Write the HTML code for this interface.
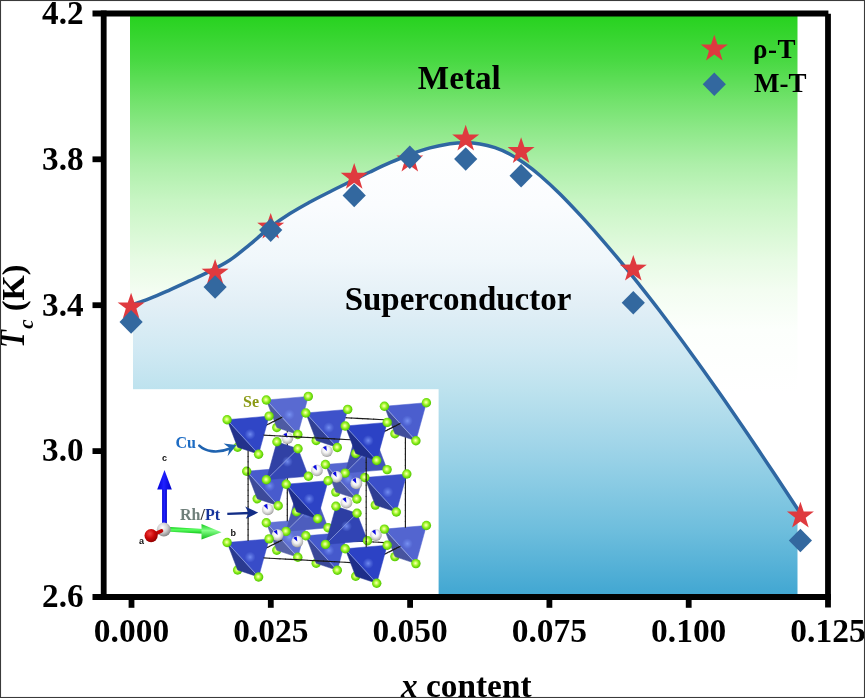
<!DOCTYPE html>
<html lang="en">
<head>
<meta charset="utf-8">
<title>Tc versus x content phase diagram</title>
<style>
html,body{margin:0;padding:0;background:#fff;}
body{width:865px;height:698px;overflow:hidden;font-family:"Liberation Serif",serif;}
svg{display:block;}
</style>
</head>
<body>
<svg width="865" height="698" viewBox="0 0 865 698">
<defs>
<linearGradient id="gG" x1="0" y1="16" x2="0" y2="392" gradientUnits="userSpaceOnUse">
<stop offset="0.000" stop-color="#27d21f"/><stop offset="0.120" stop-color="#49d943"/><stop offset="0.223" stop-color="#71e26b"/><stop offset="0.301" stop-color="#8de888"/><stop offset="0.394" stop-color="#adefa9"/><stop offset="0.489" stop-color="#c7f5c3"/><stop offset="0.566" stop-color="#d7f8d3"/><stop offset="0.649" stop-color="#e7fbe4"/><stop offset="0.729" stop-color="#f3fdf1"/><stop offset="0.835" stop-color="#fcfffc"/><stop offset="1.000" stop-color="#ffffff"/></linearGradient>
<linearGradient id="gB" x1="0" y1="140" x2="0" y2="594" gradientUnits="userSpaceOnUse">
<stop offset="0.000" stop-color="#ffffff"/><stop offset="0.143" stop-color="#fafcfe"/><stop offset="0.264" stop-color="#f0f7fb"/><stop offset="0.363" stop-color="#e2eff6"/><stop offset="0.463" stop-color="#d0e9f3"/><stop offset="0.551" stop-color="#bde2ee"/><stop offset="0.661" stop-color="#a3d6e9"/><stop offset="0.749" stop-color="#8ccce4"/><stop offset="0.859" stop-color="#6ebedd"/><stop offset="1.000" stop-color="#42a7d2"/></linearGradient>
<radialGradient id="se" cx="0.46" cy="0.46" r="0.58"><stop offset="0" stop-color="#fbffc4"/><stop offset="0.25" stop-color="#d0ff66"/><stop offset="0.55" stop-color="#8cec1e"/><stop offset="0.85" stop-color="#5cd004"/><stop offset="1" stop-color="#47ae03"/></radialGradient>
<radialGradient id="rh" cx="0.45" cy="0.4" r="0.65"><stop offset="0" stop-color="#ffffff"/><stop offset="0.4" stop-color="#f4f4f4"/><stop offset="0.75" stop-color="#c2c2c2"/><stop offset="1" stop-color="#858585"/></radialGradient>
<radialGradient id="cu" cx="0.5" cy="0.5" r="0.5"><stop offset="0" stop-color="#86a2ff" stop-opacity="0.75"/><stop offset="1" stop-color="#6f8cf0" stop-opacity="0"/></radialGradient>
<linearGradient id="gbl" x1="0" y1="0" x2="1" y2="0"><stop offset="0" stop-color="#0000d2"/><stop offset="0.45" stop-color="#2424ff"/><stop offset="1" stop-color="#0000c4"/></linearGradient>
<linearGradient id="gbl2" x1="0" y1="0" x2="1" y2="0"><stop offset="0" stop-color="#0000d8"/><stop offset="0.45" stop-color="#2020ff"/><stop offset="1" stop-color="#0000c8"/></linearGradient>
<linearGradient id="ggr" x1="0" y1="0" x2="0" y2="1"><stop offset="0" stop-color="#14d01c"/><stop offset="0.4" stop-color="#5cff62"/><stop offset="1" stop-color="#12c41a"/></linearGradient>
<linearGradient id="ggr2" x1="0" y1="0" x2="0" y2="1"><stop offset="0" stop-color="#12cc1a"/><stop offset="0.42" stop-color="#86ff8a"/><stop offset="1" stop-color="#10be18"/></linearGradient>
<radialGradient id="gsph" cx="0.4" cy="0.35" r="0.7"><stop offset="0" stop-color="#ffffff"/><stop offset="0.5" stop-color="#d0d0d0"/><stop offset="1" stop-color="#7a7a7a"/></radialGradient>
<radialGradient id="rsph" cx="0.4" cy="0.35" r="0.7"><stop offset="0" stop-color="#f04040"/><stop offset="0.5" stop-color="#cc0808"/><stop offset="1" stop-color="#8a0000"/></radialGradient>
</defs>
<rect x="0" y="0" width="865" height="698" fill="#fff"/>
<rect x="130" y="16" width="667.5" height="376" fill="url(#gG)"/>
<path d="M131 305.2C134.2 304.1 143.5 300.9 150 298.3C156.5 295.7 163.3 292.7 170 289.8C176.7 286.9 183.3 283.8 190 280.7C196.7 277.6 203.3 274.6 210 271.1C216.7 267.7 223.3 264.4 230 260C236.7 255.6 243.3 249.8 250 244.4C256.7 239 263.3 232.6 270 227.5C276.7 222.4 283.3 217.8 290 213.6C296.7 209.3 303.3 205.7 310 202C316.7 198.3 323.3 195.1 330 191.7C336.7 188.3 343.3 185.1 350 181.8C356.7 178.5 363.3 175.2 370 172C376.7 168.8 383.3 165.6 390 162.7C396.7 159.8 403.3 157 410 154.5C416.7 152 423.3 149.7 430 147.9C436.7 146.1 444.2 144.7 450 143.8C455.8 143 460 142.8 465 142.8C470 142.8 475 143.1 480 143.9C485 144.7 490 146 495 147.7C500 149.4 505 151.6 510 154.3C515 157 520 160.3 525 163.8C530 167.3 534.2 170.5 540 175.5C545.8 180.5 553.3 187.4 560 194C566.7 200.6 573.3 207.7 580 214.9C586.7 222.1 593.3 229.6 600 237.3C606.7 245 613.3 252.8 620 260.9C626.7 268.9 633.3 277.2 640 285.6C646.7 294 651.7 300.3 660 311.3C668.3 322.3 680 337.9 690 351.7C700 365.4 710 379.5 720 393.8C730 408.1 740.8 424 750 437.5C759.2 451 766.7 462.3 775 474.8C783.3 487.3 795.8 506.4 800 512.7L797.5 512.7L797.5 594L133 594L133 305.2Z" fill="url(#gB)"/>
<rect x="129" y="389.2" width="309.6" height="206" fill="#fff"/>
<g id="crystal">
<circle cx="276.8" cy="550.3" r="4.7" fill="url(#se)"/>
<circle cx="276.8" cy="427.5" r="4.7" fill="url(#se)"/>
<polygon points="276.8,550.3 266.3,522.8 297.8,557.3" fill="#5662a7" stroke="#5662a7" stroke-width="0.5"/><polygon points="308.3,519.2 266.3,522.8 297.8,557.3" fill="#6071d3" stroke="#6071d3" stroke-width="0.5"/><line x1="266.3" y1="522.8" x2="297.8" y2="557.3" stroke="#b2bfea" stroke-width="0.7"/><circle cx="289.3" cy="537.4" r="5.5" fill="url(#cu)"/>
<circle cx="308.3" cy="519.2" r="4.7" fill="url(#se)"/>
<line x1="287.30" y1="521.36" x2="287.30" y2="515.03" stroke="#1a1a1a" stroke-width="1.15"/>
<line x1="287.30" y1="515.73" x2="287.30" y2="509.40" stroke="#1a1a1a" stroke-width="1.15"/>
<line x1="287.30" y1="510.10" x2="287.30" y2="503.78" stroke="#1a1a1a" stroke-width="1.15"/>
<line x1="287.30" y1="504.48" x2="287.30" y2="498.15" stroke="#1a1a1a" stroke-width="1.15"/>
<line x1="302.72" y1="538.22" x2="308.83" y2="538.55" stroke="#1a1a1a" stroke-width="1.15"/>
<circle cx="335.8" cy="492.1" r="4.7" fill="url(#se)"/>
<line x1="287.30" y1="498.85" x2="287.30" y2="492.53" stroke="#1a1a1a" stroke-width="1.15"/>
<line x1="308.13" y1="538.51" x2="314.24" y2="538.84" stroke="#1a1a1a" stroke-width="1.15"/>
<line x1="287.30" y1="493.23" x2="287.30" y2="486.90" stroke="#1a1a1a" stroke-width="1.15"/>
<line x1="287.30" y1="487.60" x2="287.30" y2="481.28" stroke="#1a1a1a" stroke-width="1.15"/>
<line x1="313.54" y1="538.80" x2="319.65" y2="539.13" stroke="#1a1a1a" stroke-width="1.15"/>
<line x1="287.30" y1="481.98" x2="287.30" y2="475.65" stroke="#1a1a1a" stroke-width="1.15"/>
<line x1="287.30" y1="476.35" x2="287.30" y2="470.02" stroke="#1a1a1a" stroke-width="1.15"/>
<line x1="318.95" y1="539.09" x2="325.06" y2="539.41" stroke="#1a1a1a" stroke-width="1.15"/>
<line x1="287.30" y1="470.72" x2="287.30" y2="464.40" stroke="#1a1a1a" stroke-width="1.15"/>
<line x1="287.30" y1="465.10" x2="287.30" y2="458.77" stroke="#1a1a1a" stroke-width="1.15"/>
<circle cx="266.3" cy="522.8" r="4.7" fill="url(#se)"/>
<line x1="324.36" y1="539.38" x2="330.47" y2="539.70" stroke="#1a1a1a" stroke-width="1.15"/>
<line x1="287.30" y1="459.47" x2="287.30" y2="453.15" stroke="#1a1a1a" stroke-width="1.15"/>
<line x1="287.30" y1="453.85" x2="287.30" y2="447.52" stroke="#1a1a1a" stroke-width="1.15"/>
<line x1="329.77" y1="539.67" x2="335.88" y2="539.99" stroke="#1a1a1a" stroke-width="1.15"/>
<circle cx="394.9" cy="556.6" r="4.7" fill="url(#se)"/>
<line x1="287.30" y1="448.22" x2="287.30" y2="441.90" stroke="#1a1a1a" stroke-width="1.15"/>
<line x1="287.30" y1="442.60" x2="287.30" y2="436.27" stroke="#1a1a1a" stroke-width="1.15"/>
<line x1="335.18" y1="539.95" x2="341.29" y2="540.28" stroke="#1a1a1a" stroke-width="1.15"/>
<line x1="287.30" y1="436.97" x2="287.30" y2="430.64" stroke="#1a1a1a" stroke-width="1.15"/>
<circle cx="297.8" cy="557.3" r="4.7" fill="url(#se)"/>
<line x1="282.38" y1="539.87" x2="279.96" y2="541.09" stroke="#1a1a1a" stroke-width="1.15"/>
<line x1="340.59" y1="540.24" x2="346.70" y2="540.57" stroke="#1a1a1a" stroke-width="1.15"/>
<line x1="346.00" y1="540.53" x2="352.11" y2="540.86" stroke="#1a1a1a" stroke-width="1.15"/>
<polygon points="276.8,427.5 266.3,400 297.8,434.5" fill="#4e5ba3" stroke="#4e5ba3" stroke-width="0.5"/><polygon points="308.3,396.4 266.3,400 297.8,434.5" fill="#596ad1" stroke="#596ad1" stroke-width="0.5"/><line x1="266.3" y1="400" x2="297.8" y2="434.5" stroke="#aebce9" stroke-width="0.7"/><circle cx="289.3" cy="414.6" r="5.5" fill="url(#cu)"/>
<circle cx="308.3" cy="396.4" r="4.7" fill="url(#se)"/>
<line x1="351.41" y1="540.82" x2="357.52" y2="541.15" stroke="#1a1a1a" stroke-width="1.15"/>
<line x1="280.58" y1="540.78" x2="278.16" y2="541.99" stroke="#1a1a1a" stroke-width="1.15"/>
<line x1="356.82" y1="541.11" x2="362.93" y2="541.43" stroke="#1a1a1a" stroke-width="1.15"/>
<line x1="362.23" y1="541.40" x2="368.34" y2="541.72" stroke="#1a1a1a" stroke-width="1.15"/>
<line x1="302.72" y1="415.42" x2="308.83" y2="415.75" stroke="#1a1a1a" stroke-width="1.15"/>
<line x1="367.64" y1="541.69" x2="373.75" y2="542.01" stroke="#1a1a1a" stroke-width="1.15"/>
<line x1="308.13" y1="415.71" x2="314.24" y2="416.04" stroke="#1a1a1a" stroke-width="1.15"/>
<line x1="278.79" y1="541.68" x2="276.37" y2="542.89" stroke="#1a1a1a" stroke-width="1.15"/>
<line x1="373.05" y1="541.97" x2="379.16" y2="542.30" stroke="#1a1a1a" stroke-width="1.15"/>
<polygon points="335.8,492.1 325.4,464.5 356.9,499" fill="#4b57a1" stroke="#4b57a1" stroke-width="0.5"/><polygon points="367.3,461 325.4,464.5 356.9,499" fill="#5667d0" stroke="#5667d0" stroke-width="0.5"/><line x1="325.4" y1="464.5" x2="356.9" y2="499" stroke="#acbae8" stroke-width="0.7"/><circle cx="348.4" cy="479.1" r="5.5" fill="url(#cu)"/>
<circle cx="367.3" cy="461" r="4.7" fill="url(#se)"/>
<line x1="313.54" y1="416.00" x2="319.65" y2="416.33" stroke="#1a1a1a" stroke-width="1.15"/>
<line x1="378.46" y1="542.26" x2="384.57" y2="542.59" stroke="#1a1a1a" stroke-width="1.15"/>
<line x1="318.95" y1="416.29" x2="325.06" y2="416.61" stroke="#1a1a1a" stroke-width="1.15"/>
<circle cx="297.2" cy="463.9" r="5.9" fill="url(#rh)"/><path d="M297.2 463.9L296.6 458.6A5.3 5.3 0 0 0 293.2 460.4Z" fill="#0a0ae0"/>
<line x1="383.87" y1="542.55" x2="389.98" y2="542.88" stroke="#1a1a1a" stroke-width="1.15"/>
<circle cx="266.3" cy="400" r="4.7" fill="url(#se)"/>
<line x1="324.36" y1="416.58" x2="330.47" y2="416.90" stroke="#1a1a1a" stroke-width="1.15"/>
<line x1="276.99" y1="542.58" x2="274.57" y2="543.80" stroke="#1a1a1a" stroke-width="1.15"/>
<line x1="329.77" y1="416.87" x2="335.88" y2="417.19" stroke="#1a1a1a" stroke-width="1.15"/>
<circle cx="394.9" cy="433.8" r="4.7" fill="url(#se)"/>
<line x1="335.18" y1="417.15" x2="341.29" y2="417.48" stroke="#1a1a1a" stroke-width="1.15"/>
<circle cx="297.8" cy="434.5" r="4.7" fill="url(#se)"/>
<polygon points="394.9,556.6 384.4,529.1 415.9,563.6" fill="#47549f" stroke="#47549f" stroke-width="0.5"/><polygon points="426.4,525.5 384.4,529.1 415.9,563.6" fill="#5365d0" stroke="#5365d0" stroke-width="0.5"/><line x1="384.4" y1="529.1" x2="415.9" y2="563.6" stroke="#abb9e8" stroke-width="0.7"/><circle cx="407.4" cy="543.7" r="5.5" fill="url(#cu)"/>
<line x1="282.38" y1="417.07" x2="279.96" y2="418.29" stroke="#1a1a1a" stroke-width="1.15"/>
<line x1="340.59" y1="417.44" x2="346.70" y2="417.77" stroke="#1a1a1a" stroke-width="1.15"/>
<circle cx="426.4" cy="525.5" r="4.7" fill="url(#se)"/>
<line x1="275.20" y1="543.48" x2="272.77" y2="544.70" stroke="#1a1a1a" stroke-width="1.15"/>
<line x1="346.00" y1="417.73" x2="352.11" y2="418.06" stroke="#1a1a1a" stroke-width="1.15"/>
<circle cx="356.2" cy="528.4" r="5.9" fill="url(#rh)"/><path d="M356.2 528.4L355.7 523.2A5.3 5.3 0 0 0 352.3 524.9Z" fill="#0a0ae0"/>
<line x1="405.40" y1="527.66" x2="405.40" y2="521.33" stroke="#1a1a1a" stroke-width="1.15"/>
<line x1="351.41" y1="418.02" x2="357.52" y2="418.35" stroke="#1a1a1a" stroke-width="1.15"/>
<circle cx="325.4" cy="464.5" r="4.7" fill="url(#se)"/>
<line x1="405.40" y1="522.03" x2="405.40" y2="515.70" stroke="#1a1a1a" stroke-width="1.15"/>
<line x1="405.40" y1="516.40" x2="405.40" y2="510.08" stroke="#1a1a1a" stroke-width="1.15"/>
<polygon points="317.6,500.3 286,531.4 296.5,493.3" fill="#4958af" stroke="#4958af" stroke-width="0.5"/><polygon points="317.6,500.3 286,531.4 328,527.8" fill="#4d5dbe" stroke="#4d5dbe" stroke-width="0.5"/><line x1="317.6" y1="500.3" x2="286" y2="531.4" stroke="#aab8e7" stroke-width="0.7"/><circle cx="307" cy="513.2" r="5.5" fill="url(#cu)"/>
<line x1="280.58" y1="417.98" x2="278.16" y2="419.19" stroke="#1a1a1a" stroke-width="1.15"/>
<line x1="356.82" y1="418.31" x2="362.93" y2="418.63" stroke="#1a1a1a" stroke-width="1.15"/>
<circle cx="328" cy="527.8" r="4.7" fill="url(#se)"/>
<circle cx="296.5" cy="493.3" r="4.7" fill="url(#se)"/>
<line x1="405.40" y1="510.78" x2="405.40" y2="504.45" stroke="#1a1a1a" stroke-width="1.15"/>
<line x1="273.40" y1="544.39" x2="270.98" y2="545.60" stroke="#1a1a1a" stroke-width="1.15"/>
<circle cx="257.2" cy="498.8" r="4.7" fill="url(#se)"/>
<line x1="405.40" y1="505.15" x2="405.40" y2="498.83" stroke="#1a1a1a" stroke-width="1.15"/>
<line x1="362.23" y1="418.60" x2="368.34" y2="418.92" stroke="#1a1a1a" stroke-width="1.15"/>
<line x1="405.40" y1="499.53" x2="405.40" y2="493.20" stroke="#1a1a1a" stroke-width="1.15"/>
<circle cx="326.7" cy="434.8" r="5.9" fill="url(#rh)"/><path d="M326.7 434.8L326.1 429.5A5.3 5.3 0 0 0 322.7 431.2Z" fill="#0a0ae0"/>
<circle cx="356.9" cy="499" r="4.7" fill="url(#se)"/>
<line x1="405.40" y1="493.90" x2="405.40" y2="487.58" stroke="#1a1a1a" stroke-width="1.15"/>
<line x1="367.64" y1="418.89" x2="373.75" y2="419.21" stroke="#1a1a1a" stroke-width="1.15"/>
<line x1="405.40" y1="488.28" x2="405.40" y2="481.95" stroke="#1a1a1a" stroke-width="1.15"/>
<line x1="278.79" y1="418.88" x2="276.37" y2="420.09" stroke="#1a1a1a" stroke-width="1.15"/>
<line x1="405.40" y1="482.65" x2="405.40" y2="476.32" stroke="#1a1a1a" stroke-width="1.15"/>
<line x1="373.05" y1="419.17" x2="379.16" y2="419.50" stroke="#1a1a1a" stroke-width="1.15"/>
<line x1="271.60" y1="545.29" x2="269.18" y2="546.50" stroke="#1a1a1a" stroke-width="1.15"/>
<line x1="405.40" y1="477.02" x2="405.40" y2="470.70" stroke="#1a1a1a" stroke-width="1.15"/>
<line x1="405.40" y1="471.40" x2="405.40" y2="465.07" stroke="#1a1a1a" stroke-width="1.15"/>
<line x1="378.46" y1="419.46" x2="384.57" y2="419.79" stroke="#1a1a1a" stroke-width="1.15"/>
<circle cx="286" cy="531.4" r="4.7" fill="url(#se)"/>
<circle cx="384.4" cy="529.1" r="4.7" fill="url(#se)"/>
<line x1="405.40" y1="465.77" x2="405.40" y2="459.45" stroke="#1a1a1a" stroke-width="1.15"/>
<line x1="383.87" y1="419.75" x2="389.98" y2="420.08" stroke="#1a1a1a" stroke-width="1.15"/>
<line x1="405.40" y1="460.15" x2="405.40" y2="453.82" stroke="#1a1a1a" stroke-width="1.15"/>
<circle cx="316.2" cy="563.3" r="4.7" fill="url(#se)"/>
<line x1="405.40" y1="454.52" x2="405.40" y2="448.20" stroke="#1a1a1a" stroke-width="1.15"/>
<line x1="276.99" y1="419.78" x2="274.57" y2="421.00" stroke="#1a1a1a" stroke-width="1.15"/>
<line x1="405.40" y1="448.90" x2="405.40" y2="442.57" stroke="#1a1a1a" stroke-width="1.15"/>
<line x1="269.81" y1="546.19" x2="267.39" y2="547.41" stroke="#1a1a1a" stroke-width="1.15"/>
<line x1="405.40" y1="443.27" x2="405.40" y2="436.94" stroke="#1a1a1a" stroke-width="1.15"/>
<circle cx="385.7" cy="499.3" r="5.9" fill="url(#rh)"/><path d="M385.7 499.3L385.2 494.1A5.3 5.3 0 0 0 381.8 495.8Z" fill="#0a0ae0"/>
<circle cx="415.9" cy="563.6" r="4.7" fill="url(#se)"/>
<line x1="400.48" y1="546.17" x2="398.06" y2="547.39" stroke="#1a1a1a" stroke-width="1.15"/>
<polygon points="394.9,433.8 384.4,406.3 415.9,440.8" fill="#404d9b" stroke="#404d9b" stroke-width="0.5"/><polygon points="426.4,402.7 384.4,406.3 415.9,440.8" fill="#4b5ece" stroke="#4b5ece" stroke-width="0.5"/><line x1="384.4" y1="406.3" x2="415.9" y2="440.8" stroke="#a7b6e7" stroke-width="0.7"/><circle cx="407.4" cy="420.9" r="5.5" fill="url(#cu)"/>
<circle cx="426.4" cy="402.7" r="4.7" fill="url(#se)"/>
<line x1="275.20" y1="420.68" x2="272.77" y2="421.90" stroke="#1a1a1a" stroke-width="1.15"/>
<line x1="268.01" y1="547.09" x2="265.59" y2="548.31" stroke="#1a1a1a" stroke-width="1.15"/>
<line x1="398.68" y1="547.08" x2="396.26" y2="548.29" stroke="#1a1a1a" stroke-width="1.15"/>
<line x1="273.40" y1="421.59" x2="270.98" y2="422.80" stroke="#1a1a1a" stroke-width="1.15"/>
<line x1="266.22" y1="548.00" x2="263.80" y2="549.21" stroke="#1a1a1a" stroke-width="1.15"/>
<circle cx="287.4" cy="438.1" r="5.9" fill="url(#rh)"/><path d="M287.4 438.1L286.8 432.9A5.3 5.3 0 0 0 283.4 434.6Z" fill="#0a0ae0"/>
<circle cx="317.6" cy="500.3" r="4.7" fill="url(#se)"/>
<line x1="396.89" y1="547.98" x2="394.47" y2="549.19" stroke="#1a1a1a" stroke-width="1.15"/>
<polygon points="257.2,498.8 246.7,471.2 278.2,505.7" fill="#3c4a9a" stroke="#3c4a9a" stroke-width="0.5"/><polygon points="288.7,467.7 246.7,471.2 278.2,505.7" fill="#485bcd" stroke="#485bcd" stroke-width="0.5"/><line x1="246.7" y1="471.2" x2="278.2" y2="505.7" stroke="#a5b5e6" stroke-width="0.7"/><circle cx="269.7" cy="485.9" r="5.5" fill="url(#cu)"/>
<circle cx="288.7" cy="467.7" r="4.7" fill="url(#se)"/>
<line x1="271.60" y1="422.49" x2="269.18" y2="423.70" stroke="#1a1a1a" stroke-width="1.15"/>
<circle cx="316.9" cy="470.4" r="5.9" fill="url(#rh)"/><path d="M316.9 470.4L316.3 465.1A5.3 5.3 0 0 0 312.9 466.9Z" fill="#0a0ae0"/>
<line x1="264.42" y1="548.90" x2="262.00" y2="550.11" stroke="#1a1a1a" stroke-width="1.15"/>
<circle cx="384.4" cy="406.3" r="4.7" fill="url(#se)"/>
<line x1="395.09" y1="548.88" x2="392.67" y2="550.10" stroke="#1a1a1a" stroke-width="1.15"/>
<polygon points="376.6,442 345.1,473.1 355.5,435.1" fill="#3f4eaa" stroke="#3f4eaa" stroke-width="0.5"/><polygon points="376.6,442 345.1,473.1 387.1,469.6" fill="#4254ba" stroke="#4254ba" stroke-width="0.5"/><line x1="376.6" y1="442" x2="345.1" y2="473.1" stroke="#a4b4e6" stroke-width="0.7"/><circle cx="366.1" cy="454.9" r="5.5" fill="url(#cu)"/>
<circle cx="387.1" cy="469.6" r="4.7" fill="url(#se)"/>
<circle cx="355.5" cy="435.1" r="4.7" fill="url(#se)"/>
<circle cx="316.2" cy="440.5" r="4.7" fill="url(#se)"/>
<circle cx="346.4" cy="502.7" r="5.9" fill="url(#rh)"/><path d="M346.4 502.7L345.9 497.4A5.3 5.3 0 0 0 342.5 499.1Z" fill="#0a0ae0"/>
<line x1="269.81" y1="423.39" x2="267.39" y2="424.61" stroke="#1a1a1a" stroke-width="1.15"/>
<line x1="262.63" y1="549.80" x2="260.20" y2="551.02" stroke="#1a1a1a" stroke-width="1.15"/>
<circle cx="415.9" cy="440.8" r="4.7" fill="url(#se)"/>
<line x1="400.48" y1="423.37" x2="398.06" y2="424.59" stroke="#1a1a1a" stroke-width="1.15"/>
<polygon points="316.2,563.3 305.8,535.8 337.3,570.3" fill="#394798" stroke="#394798" stroke-width="0.5"/><polygon points="347.7,532.2 305.8,535.8 337.3,570.3" fill="#4559cc" stroke="#4559cc" stroke-width="0.5"/><line x1="305.8" y1="535.8" x2="337.3" y2="570.3" stroke="#a3b3e6" stroke-width="0.7"/><circle cx="328.8" cy="550.4" r="5.5" fill="url(#cu)"/>
<circle cx="347.7" cy="532.2" r="4.7" fill="url(#se)"/>
<line x1="393.30" y1="549.78" x2="390.87" y2="551.00" stroke="#1a1a1a" stroke-width="1.15"/>
<circle cx="375.9" cy="535" r="5.9" fill="url(#rh)"/><path d="M375.9 535L375.4 529.7A5.3 5.3 0 0 0 372 531.4Z" fill="#0a0ae0"/>
<circle cx="277.6" cy="535.1" r="5.9" fill="url(#rh)"/><path d="M277.6 535.1L277 529.9A5.3 5.3 0 0 0 273.6 531.6Z" fill="#0a0ae0"/>
<circle cx="345.1" cy="473.1" r="4.7" fill="url(#se)"/>
<line x1="268.01" y1="424.29" x2="265.59" y2="425.51" stroke="#1a1a1a" stroke-width="1.15"/>
<circle cx="246.7" cy="471.2" r="4.7" fill="url(#se)"/>
<line x1="260.83" y1="550.70" x2="258.41" y2="551.92" stroke="#1a1a1a" stroke-width="1.15"/>
<line x1="398.68" y1="424.28" x2="396.26" y2="425.49" stroke="#1a1a1a" stroke-width="1.15"/>
<line x1="391.50" y1="550.69" x2="389.08" y2="551.90" stroke="#1a1a1a" stroke-width="1.15"/>
<circle cx="375.3" cy="505.1" r="4.7" fill="url(#se)"/>
<circle cx="278.2" cy="505.7" r="4.7" fill="url(#se)"/>
<line x1="266.22" y1="425.20" x2="263.80" y2="426.41" stroke="#1a1a1a" stroke-width="1.15"/>
<line x1="259.03" y1="551.61" x2="256.61" y2="552.82" stroke="#1a1a1a" stroke-width="1.15"/>
<line x1="396.89" y1="425.18" x2="394.47" y2="426.39" stroke="#1a1a1a" stroke-width="1.15"/>
<line x1="389.70" y1="551.59" x2="387.28" y2="552.80" stroke="#1a1a1a" stroke-width="1.15"/>
<circle cx="305.8" cy="535.8" r="4.7" fill="url(#se)"/>
<line x1="264.42" y1="426.10" x2="262.00" y2="427.31" stroke="#1a1a1a" stroke-width="1.15"/>
<line x1="257.24" y1="552.51" x2="254.82" y2="553.72" stroke="#1a1a1a" stroke-width="1.15"/>
<circle cx="237.6" cy="570" r="4.7" fill="url(#se)"/>
<line x1="395.09" y1="426.08" x2="392.67" y2="427.30" stroke="#1a1a1a" stroke-width="1.15"/>
<line x1="387.91" y1="552.49" x2="385.49" y2="553.71" stroke="#1a1a1a" stroke-width="1.15"/>
<circle cx="307.1" cy="506" r="5.9" fill="url(#rh)"/><path d="M307.1 506L306.5 500.8A5.3 5.3 0 0 0 303.1 502.5Z" fill="#0a0ae0"/>
<circle cx="337.3" cy="570.3" r="4.7" fill="url(#se)"/>
<circle cx="376.6" cy="442" r="4.7" fill="url(#se)"/>
<line x1="262.63" y1="427.00" x2="260.20" y2="428.22" stroke="#1a1a1a" stroke-width="1.15"/>
<polygon points="316.2,440.5 305.8,413 337.3,447.5" fill="#314094" stroke="#314094" stroke-width="0.5"/><polygon points="347.7,409.4 305.8,413 337.3,447.5" fill="#3e52ca" stroke="#3e52ca" stroke-width="0.5"/><line x1="305.8" y1="413" x2="337.3" y2="447.5" stroke="#a0b0e5" stroke-width="0.7"/><circle cx="328.8" cy="427.6" r="5.5" fill="url(#cu)"/>
<line x1="255.44" y1="553.41" x2="253.02" y2="554.63" stroke="#1a1a1a" stroke-width="1.15"/>
<circle cx="347.7" cy="409.4" r="4.7" fill="url(#se)"/>
<line x1="393.30" y1="426.98" x2="390.87" y2="428.20" stroke="#1a1a1a" stroke-width="1.15"/>
<line x1="386.11" y1="553.39" x2="383.69" y2="554.61" stroke="#1a1a1a" stroke-width="1.15"/>
<line x1="260.83" y1="427.90" x2="258.41" y2="429.12" stroke="#1a1a1a" stroke-width="1.15"/>
<line x1="391.50" y1="427.89" x2="389.08" y2="429.10" stroke="#1a1a1a" stroke-width="1.15"/>
<line x1="384.32" y1="554.30" x2="381.90" y2="555.51" stroke="#1a1a1a" stroke-width="1.15"/>
<polygon points="375.3,505.1 364.8,477.5 396.3,512" fill="#2e3d92" stroke="#2e3d92" stroke-width="0.5"/><polygon points="406.8,474 364.8,477.5 396.3,512" fill="#3b4fc9" stroke="#3b4fc9" stroke-width="0.5"/><line x1="364.8" y1="477.5" x2="396.3" y2="512" stroke="#9eafe4" stroke-width="0.7"/><circle cx="387.8" cy="492.1" r="5.5" fill="url(#cu)"/>
<circle cx="406.8" cy="474" r="4.7" fill="url(#se)"/>
<line x1="259.03" y1="428.81" x2="256.61" y2="430.02" stroke="#1a1a1a" stroke-width="1.15"/>
<line x1="389.70" y1="428.79" x2="387.28" y2="430.00" stroke="#1a1a1a" stroke-width="1.15"/>
<circle cx="336.6" cy="476.9" r="5.9" fill="url(#rh)"/><path d="M336.6 476.9L336.1 471.6A5.3 5.3 0 0 0 332.7 473.4Z" fill="#0a0ae0"/>
<line x1="382.52" y1="555.20" x2="380.10" y2="556.41" stroke="#1a1a1a" stroke-width="1.15"/>
<circle cx="305.8" cy="413" r="4.7" fill="url(#se)"/>
<polygon points="298,448.7 266.4,479.8 276.9,441.8" fill="#3141a4" stroke="#3141a4" stroke-width="0.5"/><polygon points="298,448.7 266.4,479.8 308.4,476.3" fill="#3447b5" stroke="#3447b5" stroke-width="0.5"/><line x1="298" y1="448.7" x2="266.4" y2="479.8" stroke="#9daee4" stroke-width="0.7"/><circle cx="287.4" cy="461.6" r="5.5" fill="url(#cu)"/>
<circle cx="308.4" cy="476.3" r="4.7" fill="url(#se)"/>
<circle cx="276.9" cy="441.8" r="4.7" fill="url(#se)"/>
<line x1="257.24" y1="429.71" x2="254.82" y2="430.92" stroke="#1a1a1a" stroke-width="1.15"/>
<circle cx="237.6" cy="447.2" r="4.7" fill="url(#se)"/>
<circle cx="267.8" cy="509.4" r="5.9" fill="url(#rh)"/><path d="M267.8 509.4L267.2 504.1A5.3 5.3 0 0 0 263.8 505.8Z" fill="#0a0ae0"/>
<line x1="387.91" y1="429.69" x2="385.49" y2="430.91" stroke="#1a1a1a" stroke-width="1.15"/>
<line x1="380.73" y1="556.10" x2="378.30" y2="557.32" stroke="#1a1a1a" stroke-width="1.15"/>
<circle cx="337.3" cy="447.5" r="4.7" fill="url(#se)"/>
<polygon points="237.6,570 227.1,542.5 258.6,577" fill="#2a3a90" stroke="#2a3a90" stroke-width="0.5"/><polygon points="269.1,538.9 227.1,542.5 258.6,577" fill="#384cc8" stroke="#384cc8" stroke-width="0.5"/><line x1="227.1" y1="542.5" x2="258.6" y2="577" stroke="#9cade4" stroke-width="0.7"/><circle cx="250.1" cy="557.1" r="5.5" fill="url(#cu)"/>
<circle cx="269.1" cy="538.9" r="4.7" fill="url(#se)"/>
<line x1="255.44" y1="430.61" x2="253.02" y2="431.83" stroke="#1a1a1a" stroke-width="1.15"/>
<circle cx="297.3" cy="541.6" r="5.9" fill="url(#rh)"/><path d="M297.3 541.6L296.7 536.4A5.3 5.3 0 0 0 293.3 538.1Z" fill="#0a0ae0"/>
<line x1="248.10" y1="541.06" x2="248.10" y2="534.73" stroke="#1a1a1a" stroke-width="1.15"/>
<circle cx="266.4" cy="479.8" r="4.7" fill="url(#se)"/>
<line x1="386.11" y1="430.59" x2="383.69" y2="431.81" stroke="#1a1a1a" stroke-width="1.15"/>
<circle cx="364.8" cy="477.5" r="4.7" fill="url(#se)"/>
<line x1="248.10" y1="535.43" x2="248.10" y2="529.10" stroke="#1a1a1a" stroke-width="1.15"/>
<line x1="378.93" y1="557.00" x2="376.51" y2="558.22" stroke="#1a1a1a" stroke-width="1.15"/>
<line x1="248.10" y1="529.80" x2="248.10" y2="523.48" stroke="#1a1a1a" stroke-width="1.15"/>
<polygon points="357,513.3 325.5,544.4 335.9,506.3" fill="#2d3ea3" stroke="#2d3ea3" stroke-width="0.5"/><polygon points="357,513.3 325.5,544.4 367.5,540.8" fill="#3144b4" stroke="#3144b4" stroke-width="0.5"/><line x1="357" y1="513.3" x2="325.5" y2="544.4" stroke="#9bace3" stroke-width="0.7"/><circle cx="346.5" cy="526.2" r="5.5" fill="url(#cu)"/>
<circle cx="367.5" cy="540.8" r="4.7" fill="url(#se)"/>
<circle cx="335.9" cy="506.3" r="4.7" fill="url(#se)"/>
<line x1="248.10" y1="524.18" x2="248.10" y2="517.85" stroke="#1a1a1a" stroke-width="1.15"/>
<line x1="263.52" y1="557.92" x2="269.63" y2="558.25" stroke="#1a1a1a" stroke-width="1.15"/>
<circle cx="296.6" cy="511.8" r="4.7" fill="url(#se)"/>
<line x1="248.10" y1="518.55" x2="248.10" y2="512.23" stroke="#1a1a1a" stroke-width="1.15"/>
<line x1="268.93" y1="558.21" x2="275.04" y2="558.54" stroke="#1a1a1a" stroke-width="1.15"/>
<line x1="248.10" y1="512.93" x2="248.10" y2="506.60" stroke="#1a1a1a" stroke-width="1.15"/>
<circle cx="366.1" cy="447.8" r="5.9" fill="url(#rh)"/><path d="M366.1 447.8L365.6 442.5A5.3 5.3 0 0 0 362.2 444.2Z" fill="#0a0ae0"/>
<circle cx="396.3" cy="512" r="4.7" fill="url(#se)"/>
<line x1="248.10" y1="507.30" x2="248.10" y2="500.98" stroke="#1a1a1a" stroke-width="1.15"/>
<line x1="384.32" y1="431.50" x2="381.90" y2="432.71" stroke="#1a1a1a" stroke-width="1.15"/>
<line x1="274.34" y1="558.50" x2="280.45" y2="558.83" stroke="#1a1a1a" stroke-width="1.15"/>
<line x1="248.10" y1="501.68" x2="248.10" y2="495.35" stroke="#1a1a1a" stroke-width="1.15"/>
<line x1="377.13" y1="557.91" x2="374.71" y2="559.12" stroke="#1a1a1a" stroke-width="1.15"/>
<line x1="248.10" y1="496.05" x2="248.10" y2="489.72" stroke="#1a1a1a" stroke-width="1.15"/>
<line x1="279.75" y1="558.79" x2="285.86" y2="559.11" stroke="#1a1a1a" stroke-width="1.15"/>
<line x1="248.10" y1="490.42" x2="248.10" y2="484.10" stroke="#1a1a1a" stroke-width="1.15"/>
<line x1="248.10" y1="484.80" x2="248.10" y2="478.47" stroke="#1a1a1a" stroke-width="1.15"/>
<circle cx="325.5" cy="544.4" r="4.7" fill="url(#se)"/>
<circle cx="227.1" cy="542.5" r="4.7" fill="url(#se)"/>
<line x1="285.16" y1="559.08" x2="291.27" y2="559.40" stroke="#1a1a1a" stroke-width="1.15"/>
<line x1="248.10" y1="479.17" x2="248.10" y2="472.85" stroke="#1a1a1a" stroke-width="1.15"/>
<line x1="382.52" y1="432.40" x2="380.10" y2="433.61" stroke="#1a1a1a" stroke-width="1.15"/>
<line x1="248.10" y1="473.55" x2="248.10" y2="467.22" stroke="#1a1a1a" stroke-width="1.15"/>
<line x1="290.57" y1="559.37" x2="296.68" y2="559.69" stroke="#1a1a1a" stroke-width="1.15"/>
<line x1="375.34" y1="558.81" x2="372.92" y2="560.02" stroke="#1a1a1a" stroke-width="1.15"/>
<circle cx="355.7" cy="576.3" r="4.7" fill="url(#se)"/>
<line x1="248.10" y1="467.92" x2="248.10" y2="461.60" stroke="#1a1a1a" stroke-width="1.15"/>
<line x1="248.10" y1="462.30" x2="248.10" y2="455.97" stroke="#1a1a1a" stroke-width="1.15"/>
<line x1="295.98" y1="559.65" x2="302.09" y2="559.98" stroke="#1a1a1a" stroke-width="1.15"/>
<line x1="248.10" y1="456.67" x2="248.10" y2="450.34" stroke="#1a1a1a" stroke-width="1.15"/>
<circle cx="258.6" cy="577" r="4.7" fill="url(#se)"/>
<line x1="301.39" y1="559.94" x2="307.50" y2="560.27" stroke="#1a1a1a" stroke-width="1.15"/>
<circle cx="298" cy="448.7" r="4.7" fill="url(#se)"/>
<line x1="380.73" y1="433.30" x2="378.30" y2="434.52" stroke="#1a1a1a" stroke-width="1.15"/>
<line x1="306.80" y1="560.23" x2="312.91" y2="560.56" stroke="#1a1a1a" stroke-width="1.15"/>
<line x1="373.54" y1="559.71" x2="371.12" y2="560.93" stroke="#1a1a1a" stroke-width="1.15"/>
<polygon points="237.6,447.2 227.1,419.7 258.6,454.2" fill="#23328c" stroke="#23328c" stroke-width="0.5"/><polygon points="269.1,416.1 227.1,419.7 258.6,454.2" fill="#3046c6" stroke="#3046c6" stroke-width="0.5"/><line x1="227.1" y1="419.7" x2="258.6" y2="454.2" stroke="#98aae3" stroke-width="0.7"/><circle cx="250.1" cy="434.3" r="5.5" fill="url(#cu)"/>
<circle cx="269.1" cy="416.1" r="4.7" fill="url(#se)"/>
<line x1="312.21" y1="560.52" x2="318.32" y2="560.85" stroke="#1a1a1a" stroke-width="1.15"/>
<line x1="317.62" y1="560.81" x2="323.73" y2="561.13" stroke="#1a1a1a" stroke-width="1.15"/>
<line x1="378.93" y1="434.20" x2="376.51" y2="435.42" stroke="#1a1a1a" stroke-width="1.15"/>
<line x1="323.03" y1="561.10" x2="329.14" y2="561.42" stroke="#1a1a1a" stroke-width="1.15"/>
<line x1="263.52" y1="435.12" x2="269.63" y2="435.45" stroke="#1a1a1a" stroke-width="1.15"/>
<line x1="328.44" y1="561.39" x2="334.55" y2="561.71" stroke="#1a1a1a" stroke-width="1.15"/>
<circle cx="326.8" cy="451.1" r="5.9" fill="url(#rh)"/><path d="M326.8 451.1L326.3 445.9A5.3 5.3 0 0 0 322.9 447.6Z" fill="#0a0ae0"/>
<line x1="268.93" y1="435.41" x2="275.04" y2="435.74" stroke="#1a1a1a" stroke-width="1.15"/>
<circle cx="357" cy="513.3" r="4.7" fill="url(#se)"/>
<line x1="333.85" y1="561.67" x2="339.96" y2="562.00" stroke="#1a1a1a" stroke-width="1.15"/>
<polygon points="296.6,511.8 286.2,484.2 317.7,518.7" fill="#1f2f8b" stroke="#1f2f8b" stroke-width="0.5"/><polygon points="328.1,480.7 286.2,484.2 317.7,518.7" fill="#2d43c5" stroke="#2d43c5" stroke-width="0.5"/><line x1="286.2" y1="484.2" x2="317.7" y2="518.7" stroke="#97a9e2" stroke-width="0.7"/><circle cx="309.2" cy="498.9" r="5.5" fill="url(#cu)"/>
<circle cx="328.1" cy="480.7" r="4.7" fill="url(#se)"/>
<line x1="274.34" y1="435.70" x2="280.45" y2="436.03" stroke="#1a1a1a" stroke-width="1.15"/>
<line x1="377.13" y1="435.11" x2="374.71" y2="436.32" stroke="#1a1a1a" stroke-width="1.15"/>
<line x1="339.26" y1="561.96" x2="345.37" y2="562.29" stroke="#1a1a1a" stroke-width="1.15"/>
<line x1="279.75" y1="435.99" x2="285.86" y2="436.31" stroke="#1a1a1a" stroke-width="1.15"/>
<circle cx="356.3" cy="483.4" r="5.9" fill="url(#rh)"/><path d="M356.3 483.4L355.8 478.1A5.3 5.3 0 0 0 352.4 479.9Z" fill="#0a0ae0"/>
<line x1="344.67" y1="562.25" x2="350.78" y2="562.58" stroke="#1a1a1a" stroke-width="1.15"/>
<circle cx="227.1" cy="419.7" r="4.7" fill="url(#se)"/>
<line x1="285.16" y1="436.28" x2="291.27" y2="436.60" stroke="#1a1a1a" stroke-width="1.15"/>
<line x1="290.57" y1="436.57" x2="296.68" y2="436.89" stroke="#1a1a1a" stroke-width="1.15"/>
<line x1="375.34" y1="436.01" x2="372.92" y2="437.22" stroke="#1a1a1a" stroke-width="1.15"/>
<circle cx="355.7" cy="453.5" r="4.7" fill="url(#se)"/>
<line x1="295.98" y1="436.85" x2="302.09" y2="437.18" stroke="#1a1a1a" stroke-width="1.15"/>
<circle cx="258.6" cy="454.2" r="4.7" fill="url(#se)"/>
<polygon points="355.7,576.3 345.2,548.8 376.7,583.3" fill="#1e2e8a" stroke="#1e2e8a" stroke-width="0.5"/><polygon points="387.2,545.2 345.2,548.8 376.7,583.3" fill="#2c42c5" stroke="#2c42c5" stroke-width="0.5"/><line x1="345.2" y1="548.8" x2="376.7" y2="583.3" stroke="#96a8e2" stroke-width="0.7"/><circle cx="368.2" cy="563.4" r="5.5" fill="url(#cu)"/>
<line x1="301.39" y1="437.14" x2="307.50" y2="437.47" stroke="#1a1a1a" stroke-width="1.15"/>
<circle cx="387.2" cy="545.2" r="4.7" fill="url(#se)"/>
<line x1="306.80" y1="437.43" x2="312.91" y2="437.76" stroke="#1a1a1a" stroke-width="1.15"/>
<line x1="373.54" y1="436.91" x2="371.12" y2="438.13" stroke="#1a1a1a" stroke-width="1.15"/>
<line x1="366.20" y1="547.36" x2="366.20" y2="541.03" stroke="#1a1a1a" stroke-width="1.15"/>
<line x1="312.21" y1="437.72" x2="318.32" y2="438.05" stroke="#1a1a1a" stroke-width="1.15"/>
<circle cx="286.2" cy="484.2" r="4.7" fill="url(#se)"/>
<line x1="366.20" y1="541.73" x2="366.20" y2="535.40" stroke="#1a1a1a" stroke-width="1.15"/>
<line x1="366.20" y1="536.10" x2="366.20" y2="529.78" stroke="#1a1a1a" stroke-width="1.15"/>
<line x1="317.62" y1="438.01" x2="323.73" y2="438.33" stroke="#1a1a1a" stroke-width="1.15"/>
<line x1="366.20" y1="530.48" x2="366.20" y2="524.15" stroke="#1a1a1a" stroke-width="1.15"/>
<line x1="366.20" y1="524.85" x2="366.20" y2="518.53" stroke="#1a1a1a" stroke-width="1.15"/>
<line x1="323.03" y1="438.30" x2="329.14" y2="438.62" stroke="#1a1a1a" stroke-width="1.15"/>
<line x1="366.20" y1="519.23" x2="366.20" y2="512.90" stroke="#1a1a1a" stroke-width="1.15"/>
<circle cx="317.7" cy="518.7" r="4.7" fill="url(#se)"/>
<line x1="366.20" y1="513.60" x2="366.20" y2="507.28" stroke="#1a1a1a" stroke-width="1.15"/>
<line x1="328.44" y1="438.59" x2="334.55" y2="438.91" stroke="#1a1a1a" stroke-width="1.15"/>
<line x1="366.20" y1="507.98" x2="366.20" y2="501.65" stroke="#1a1a1a" stroke-width="1.15"/>
<line x1="366.20" y1="502.35" x2="366.20" y2="496.02" stroke="#1a1a1a" stroke-width="1.15"/>
<line x1="333.85" y1="438.87" x2="339.96" y2="439.20" stroke="#1a1a1a" stroke-width="1.15"/>
<line x1="366.20" y1="496.72" x2="366.20" y2="490.40" stroke="#1a1a1a" stroke-width="1.15"/>
<line x1="366.20" y1="491.10" x2="366.20" y2="484.77" stroke="#1a1a1a" stroke-width="1.15"/>
<line x1="339.26" y1="439.16" x2="345.37" y2="439.49" stroke="#1a1a1a" stroke-width="1.15"/>
<circle cx="345.2" cy="548.8" r="4.7" fill="url(#se)"/>
<line x1="366.20" y1="485.47" x2="366.20" y2="479.15" stroke="#1a1a1a" stroke-width="1.15"/>
<line x1="344.67" y1="439.45" x2="350.78" y2="439.78" stroke="#1a1a1a" stroke-width="1.15"/>
<line x1="366.20" y1="479.85" x2="366.20" y2="473.52" stroke="#1a1a1a" stroke-width="1.15"/>
<line x1="366.20" y1="474.22" x2="366.20" y2="467.90" stroke="#1a1a1a" stroke-width="1.15"/>
<line x1="366.20" y1="468.60" x2="366.20" y2="462.27" stroke="#1a1a1a" stroke-width="1.15"/>
<line x1="366.20" y1="462.97" x2="366.20" y2="456.64" stroke="#1a1a1a" stroke-width="1.15"/>
<circle cx="376.7" cy="583.3" r="4.7" fill="url(#se)"/>
<polygon points="355.7,453.5 345.2,426 376.7,460.5" fill="#1e2e8a" stroke="#1e2e8a" stroke-width="0.5"/><polygon points="387.2,422.4 345.2,426 376.7,460.5" fill="#2c42c5" stroke="#2c42c5" stroke-width="0.5"/><line x1="345.2" y1="426" x2="376.7" y2="460.5" stroke="#96a8e2" stroke-width="0.7"/><circle cx="368.2" cy="440.6" r="5.5" fill="url(#cu)"/>
<circle cx="387.2" cy="422.4" r="4.7" fill="url(#se)"/>
<circle cx="345.2" cy="426" r="4.7" fill="url(#se)"/>
<circle cx="376.7" cy="460.5" r="4.7" fill="url(#se)"/>
</g>
<g id="compass">
<rect x="162.1" y="488" width="4.8" height="38" fill="url(#gbl)"/>
<polygon points="157.2,489.6 171.8,489.6 164.5,470" fill="url(#gbl2)"/>
<polygon points="170,527.1 203.4,529.1 203.4,533.7 170,531.7" fill="url(#ggr)"/>
<polygon points="201.5,524 221.5,532.3 201.5,539.4" fill="url(#ggr2)"/>
<circle cx="163.8" cy="529.6" r="7" fill="url(#gsph)"/>
<line x1="152" y1="535.4" x2="161.5" y2="530.8" stroke="#c20606" stroke-width="3.6" stroke-linecap="round"/>
<circle cx="151.1" cy="535.6" r="6.6" fill="url(#rsph)"/>
<text x="164.5" y="460.5" text-anchor="middle" font-family="'Liberation Sans',sans-serif" font-weight="700" font-size="9" fill="#111">c</text>
<text x="141.4" y="543.5" text-anchor="middle" font-family="'Liberation Sans',sans-serif" font-weight="700" font-size="9" fill="#111">a</text>
<text x="233.3" y="536.3" text-anchor="middle" font-family="'Liberation Sans',sans-serif" font-weight="700" font-size="9" fill="#111">b</text>
</g>
<text x="243" y="406.5" font-family="'Liberation Serif',serif" font-weight="700" font-size="16" fill="#8a9a14">Se</text>
<text x="175.5" y="448" font-family="'Liberation Serif',serif" font-weight="700" font-size="16" fill="#1d6cc4">Cu</text>
<text x="180" y="519.7" font-family="'Liberation Serif',serif" font-weight="700" font-size="16"><tspan fill="#6f7f7a">Rh</tspan><tspan fill="#333">/</tspan><tspan fill="#17349c">Pt</tspan></text>
<path d="M199.3 445.6C204.5 450.8 216 454.2 230 448.5" fill="none" stroke="#1f63b0" stroke-width="2.6" stroke-linecap="round"/>
<polygon points="236.5,445 223.6,443.4 229.6,447.9 227.6,456.2" fill="#1f63b0"/>
<line x1="227.3" y1="513.9" x2="250" y2="513" stroke="#122d86" stroke-width="2.4"/>
<polygon points="258.2,512.6 245.2,506.6 248.8,512.9 245.8,518.8" fill="#122d86"/>
<path d="M131 305.2C134.2 304.1 143.5 300.9 150 298.3C156.5 295.7 163.3 292.7 170 289.8C176.7 286.9 183.3 283.8 190 280.7C196.7 277.6 203.3 274.6 210 271.1C216.7 267.7 223.3 264.4 230 260C236.7 255.6 243.3 249.8 250 244.4C256.7 239 263.3 232.6 270 227.5C276.7 222.4 283.3 217.8 290 213.6C296.7 209.3 303.3 205.7 310 202C316.7 198.3 323.3 195.1 330 191.7C336.7 188.3 343.3 185.1 350 181.8C356.7 178.5 363.3 175.2 370 172C376.7 168.8 383.3 165.6 390 162.7C396.7 159.8 403.3 157 410 154.5C416.7 152 423.3 149.7 430 147.9C436.7 146.1 444.2 144.7 450 143.8C455.8 143 460 142.8 465 142.8C470 142.8 475 143.1 480 143.9C485 144.7 490 146 495 147.7C500 149.4 505 151.6 510 154.3C515 157 520 160.3 525 163.8C530 167.3 534.2 170.5 540 175.5C545.8 180.5 553.3 187.4 560 194C566.7 200.6 573.3 207.7 580 214.9C586.7 222.1 593.3 229.6 600 237.3C606.7 245 613.3 252.8 620 260.9C626.7 268.9 633.3 277.2 640 285.6C646.7 294 651.7 300.3 660 311.3C668.3 322.3 680 337.9 690 351.7C700 365.4 710 379.5 720 393.8C730 408.1 740.8 424 750 437.5C759.2 451 766.7 462.3 775 474.8C783.3 487.3 795.8 506.4 800 512.7" fill="none" stroke="#2f67a2" stroke-width="3.5" stroke-linecap="round" stroke-linejoin="round"/>
<polygon points="131.1,292.7 134.4,302.4 144.6,302.5 136.4,308.6 139.4,318.4 131.1,312.5 122.8,318.4 125.8,308.6 117.6,302.5 127.8,302.4" fill="#df3a3f"/>
<polygon points="131.1,310.1 142.7,321.9 131.1,333.7 119.5,321.9" fill="#33689f"/>
<polygon points="215.1,258.9 218.4,268.6 228.6,268.7 220.4,274.8 223.4,284.6 215.1,278.7 206.8,284.6 209.8,274.8 201.6,268.7 211.8,268.6" fill="#df3a3f"/>
<polygon points="215.1,275.2 226.7,287 215.1,298.8 203.5,287" fill="#33689f"/>
<polygon points="270.7,212.9 274,222.6 284.2,222.7 276,228.8 279,238.6 270.7,232.7 262.4,238.6 265.4,228.8 257.2,222.7 267.4,222.6" fill="#df3a3f"/>
<polygon points="270.7,218.3 282.3,230.1 270.7,241.9 259.1,230.1" fill="#33689f"/>
<polygon points="354.2,163 357.5,172.7 367.7,172.8 359.5,178.9 362.5,188.7 354.2,182.8 345.9,188.7 348.9,178.9 340.7,172.8 350.9,172.7" fill="#df3a3f"/>
<polygon points="354.2,183.6 365.8,195.4 354.2,207.2 342.6,195.4" fill="#33689f"/>
<polygon points="409.8,145.7 413.1,155.4 423.3,155.5 415.1,161.6 418.1,171.4 409.8,165.5 401.5,171.4 404.5,161.6 396.3,155.5 406.5,155.4" fill="#df3a3f"/>
<polygon points="409.8,145.5 421.4,157.3 409.8,169.1 398.2,157.3" fill="#33689f"/>
<polygon points="465.7,124.8 469,134.5 479.2,134.6 471,140.7 474,150.5 465.7,144.6 457.4,150.5 460.4,140.7 452.2,134.6 462.4,134.5" fill="#df3a3f"/>
<polygon points="465.7,147.2 477.3,159 465.7,170.8 454.1,159" fill="#33689f"/>
<polygon points="521.1,137.3 524.4,147 534.6,147.1 526.4,153.2 529.4,163 521.1,157.1 512.8,163 515.8,153.2 507.6,147.1 517.8,147" fill="#df3a3f"/>
<polygon points="521.1,163.9 532.7,175.7 521.1,187.5 509.5,175.7" fill="#33689f"/>
<polygon points="633.3,254.9 636.6,264.6 646.8,264.7 638.6,270.8 641.6,280.6 633.3,274.7 625,280.6 628,270.8 619.8,264.7 630,264.6" fill="#df3a3f"/>
<polygon points="633.3,291 644.9,302.8 633.3,314.6 621.7,302.8" fill="#33689f"/>
<polygon points="800.4,501.8 803.7,511.5 813.9,511.6 805.7,517.7 808.7,527.5 800.4,521.6 792.1,527.5 795.1,517.7 786.9,511.6 797.1,511.5" fill="#df3a3f"/>
<polygon points="800.4,528.7 812,540.5 800.4,552.3 788.8,540.5" fill="#33689f"/>
<polygon points="714.3,34.8 717.6,44.5 727.8,44.6 719.6,50.7 722.6,60.5 714.3,54.6 706,60.5 709,50.7 700.8,44.6 711,44.5" fill="#df3a3f"/>
<polygon points="714.3,72.5 725.9,84.3 714.3,96.1 702.7,84.3" fill="#33689f"/>
<text x="753" y="58" font-family="'Liberation Serif',serif" font-weight="700" font-size="27" letter-spacing="0.5" fill="#000">ρ-T</text>
<text x="754" y="92.2" font-family="'Liberation Serif',serif" font-weight="700" font-size="27" fill="#000">M-T</text>
<text x="459.3" y="88.6" text-anchor="middle" font-family="'Liberation Serif',serif" font-weight="700" font-size="33.2" fill="#000">Metal</text>
<text x="458" y="309.7" text-anchor="middle" font-family="'Liberation Serif',serif" font-weight="700" font-size="33" fill="#000">Superconductor</text>
<g stroke="#000" stroke-width="5.8" fill="none" stroke-linecap="butt">
<path d="M92.5 13.5 H828.4"/>
<path d="M103.7 10.6 V600"/>
<path d="M92.5 597 H831"/>
<path d="M828 13.8 V607.6"/>
<path d="M92.5 159.3 H102"/>
<path d="M92.5 305.2 H102"/>
<path d="M92.5 451.1 H102"/>
<path d="M131.5 598 V607.8"/>
<path d="M270.8 598 V607.8"/>
<path d="M410.1 598 V607.8"/>
<path d="M549.4 598 V607.8"/>
<path d="M688.7 598 V607.8"/>
</g>
<text x="83.6" y="23.7" text-anchor="end" font-family="'Liberation Serif',serif" font-weight="700" font-size="33.2" fill="#000">4.2</text>
<text x="83.6" y="169.6" text-anchor="end" font-family="'Liberation Serif',serif" font-weight="700" font-size="33.2" fill="#000">3.8</text>
<text x="83.6" y="315.5" text-anchor="end" font-family="'Liberation Serif',serif" font-weight="700" font-size="33.2" fill="#000">3.4</text>
<text x="83.6" y="461.4" text-anchor="end" font-family="'Liberation Serif',serif" font-weight="700" font-size="33.2" fill="#000">3.0</text>
<text x="83.6" y="607.3" text-anchor="end" font-family="'Liberation Serif',serif" font-weight="700" font-size="33.2" fill="#000">2.6</text>
<text transform="translate(131.5 642) scale(0.976 1)" text-anchor="middle" font-family="'Liberation Serif',serif" font-weight="700" font-size="34.3" fill="#000">0.000</text>
<text transform="translate(270.8 642) scale(0.976 1)" text-anchor="middle" font-family="'Liberation Serif',serif" font-weight="700" font-size="34.3" fill="#000">0.025</text>
<text transform="translate(410.1 642) scale(0.976 1)" text-anchor="middle" font-family="'Liberation Serif',serif" font-weight="700" font-size="34.3" fill="#000">0.050</text>
<text transform="translate(549.4 642) scale(0.976 1)" text-anchor="middle" font-family="'Liberation Serif',serif" font-weight="700" font-size="34.3" fill="#000">0.075</text>
<text transform="translate(688.7 642) scale(0.976 1)" text-anchor="middle" font-family="'Liberation Serif',serif" font-weight="700" font-size="34.3" fill="#000">0.100</text>
<text transform="translate(828 642) scale(0.976 1)" text-anchor="middle" font-family="'Liberation Serif',serif" font-weight="700" font-size="34.3" fill="#000">0.125</text>
<text x="466.3" y="697" text-anchor="middle" font-family="'Liberation Serif',serif" font-weight="700" font-size="33.3" fill="#000"><tspan font-style="italic">x</tspan> content</text>
<text transform="translate(23.8 347.7) rotate(-90) scale(0.86 1.07)" font-family="'Liberation Serif',serif" font-weight="700" font-size="33.6" font-style="italic" fill="#000">T</text>
<text transform="translate(23.8 328.7) rotate(-90)" font-family="'Liberation Serif',serif" font-weight="700" font-size="32.4" fill="#000"><tspan font-style="italic" font-size="21" dy="9.5">c</tspan><tspan dy="-9.5"> (K)</tspan></text>
<rect x="0.5" y="0.5" width="864" height="697" fill="none" stroke="#3a3a3a" stroke-width="1.1"/>
</svg>
</body>
</html>
